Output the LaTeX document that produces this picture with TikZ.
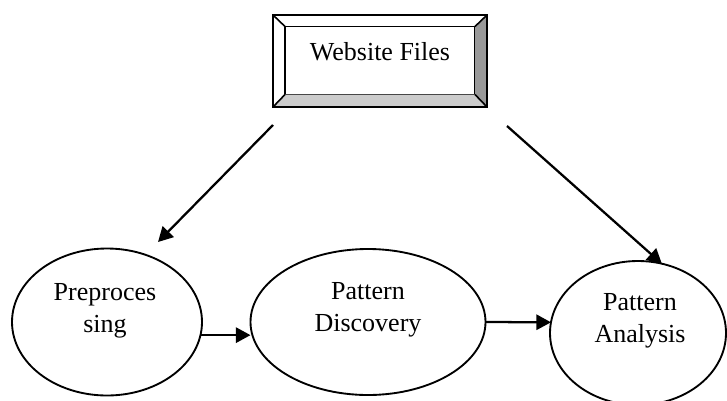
\documentclass[tikz,border=0pt]{standalone}
\usepackage{fontspec}
\setmainfont{Liberation Serif}
\usetikzlibrary{arrows.meta,shapes.geometric}
\tikzset{
  label text/.style={font=\fontsize{19.5}{24}\selectfont, align=center, inner sep=0pt},
  stagebox/.style={draw, ellipse, line width=1.4pt, inner sep=0pt, outer sep=0pt},
  filebox/.style={draw, line width=1.2pt, fill=white, minimum width=142.5pt, minimum height=51pt,
    inner sep=0pt, outer sep=0pt, text depth=13pt, font=\fontsize{19.5}{24}\selectfont},
  bevel/.style={draw, line width=1.2pt, line join=miter},
  arrow/.style={-{Triangle[length=11pt,width=11.5pt]}, line width=1.7pt}
}

\begin{document}
\begin{tikzpicture}[x=0.75pt, y=-0.75pt]
  \useasboundingbox (0,0) rectangle (727,400);

  \node[filebox] (files) at (380,60.5) {Website Files};
  \coordinate (ftl) at (273,15);
  \coordinate (ftr) at (487,15);
  \coordinate (fbr) at (487,107);
  \coordinate (fbl) at (273,107);
  \fill[black!40] (ftr) -- (fbr) -- (files.south east) -- (files.north east) -- cycle;
  \fill[black!20] (fbl) -- (fbr) -- (files.south east) -- (files.south west) -- cycle;
  \draw[bevel] (ftl) rectangle (fbr);
  \draw[bevel] (ftl) -- (files.north west);
  \draw[bevel] (ftr) -- (files.north east);
  \draw[bevel] (fbr) -- (files.south east);
  \draw[bevel] (fbl) -- (files.south west);

  \node[stagebox, minimum width=142.5pt, minimum height=110.25pt] (pre) at (107,322) {};
  \node[stagebox, minimum width=176.25pt, minimum height=109.5pt] (disc) at (368,322) {};
  \node[stagebox, minimum width=132pt, minimum height=108pt] (ana) at (638,333) {};
  \node[label text] (pretext) at (105,311) {Preproces\\sing};
  \node[label text] (disctext) at (368,310) {Pattern\\Discovery};
  \node[label text] (anatext) at (640,321) {Pattern\\Analysis};

  \coordinate (leftstart) at (273,125);
  \coordinate (leftend) at (158,242);
  \coordinate (rightstart) at (507,126);

  \draw[arrow] (leftstart) -- (leftend);
  \draw[arrow] (rightstart) -- (ana.71);
  \draw[arrow] (pre.-8) -- (pre.-8 -| disc.west);
  \draw[arrow] (disc.east) -- (ana.173);
\end{tikzpicture}
\end{document}
